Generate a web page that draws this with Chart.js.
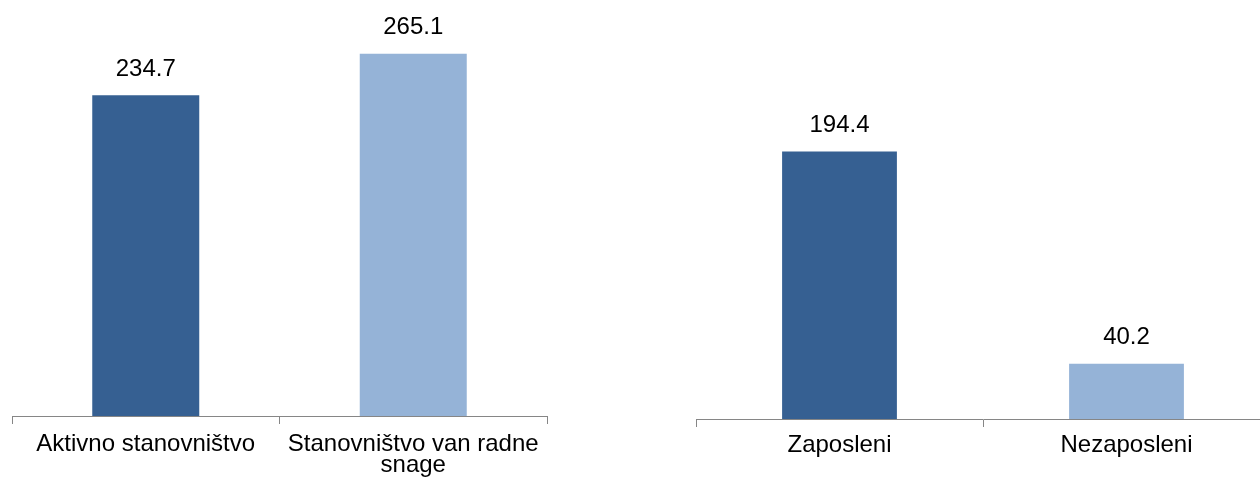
<!DOCTYPE html>
<html>
<head>
<meta charset="utf-8">
<script src="https://cdn.jsdelivr.net/npm/chart.js@4/dist/chart.umd.min.js"></script>
<style>
  html, body { margin: 0; padding: 0; background: #fff; }
  body { width: 1260px; height: 482px; overflow: hidden; position: relative; }
  .box { position: absolute; top: 0; }
</style>
</head>
<body>
<div class="box" style="left:0px"><canvas id="left" width="560" height="482"></canvas></div>
<div class="box" style="left:690px"><canvas id="right" width="590" height="482"></canvas></div>
<script>
// data
const leftLabels = ['Aktivno stanovništvo', ['Stanovništvo van radne', 'snage']];
const leftValues = [234.7, 265.1];
const rightLabels = ['Zaposleni', 'Nezaposleni'];
const rightValues = [194.4, 40.2];
const barColors = ['#366092', '#95B3D7'];

const axisGray = '#868686';
const fontFamily = '"Liberation Sans", Arial, sans-serif';

// draws the value above each bar
const valueLabels = {
  id: 'valueLabels',
  afterDatasetsDraw(chart) {
    const ctx = chart.ctx;
    const meta = chart.getDatasetMeta(0);
    ctx.save();
    ctx.font = '24px ' + fontFamily;
    ctx.fillStyle = '#000';
    ctx.textAlign = 'center';
    ctx.textBaseline = 'middle';
    meta.data.forEach((bar, i) => {
      const v = chart.data.datasets[0].data[i];
      ctx.fillText(v.toFixed(1), bar.x, bar.y - 26);
    });
    ctx.restore();
  }
};

function makeChart(id, labels, values, pad, axisHeight, labelPad) {
  const ctx = document.getElementById(id).getContext('2d');
  return new Chart(ctx, {
    type: 'bar',
    data: {
      labels: labels,
      datasets: [{
        data: values,
        backgroundColor: barColors,
        borderWidth: 0,
        barPercentage: 1,
        categoryPercentage: 0.4,
      }],
    },
    options: {
      responsive: false,
      animation: false,
      layout: { padding: pad },
      plugins: {
        legend: { display: false },
        tooltip: { enabled: false },
      },
      scales: {
        x: {
          offset: true,
          border: { display: true, color: axisGray, width: 1 },
          grid: {
            display: true,
            offset: true,
            drawOnChartArea: false,
            drawTicks: true,
            tickLength: 8,
            color: axisGray,
          },
          ticks: {
            color: '#000',
            padding: labelPad,
            maxRotation: 0,
            autoSkip: false,
            font: { family: fontFamily, size: 24, lineHeight: '21px' },
          },
          afterFit(scale) { scale.height = axisHeight; },
        },
        y: {
          display: false,
          min: 0,
          max: 300,
        },
      },
    },
    plugins: [valueLabels],
  });
}

makeChart('left', leftLabels, leftValues, { top: 6, left: 12, right: 13, bottom: 0 }, 66, 10);
makeChart('right', rightLabels, rightValues, { top: 6, left: 6, right: 10, bottom: 0 }, 63, 8);
</script>
</body>
</html>
